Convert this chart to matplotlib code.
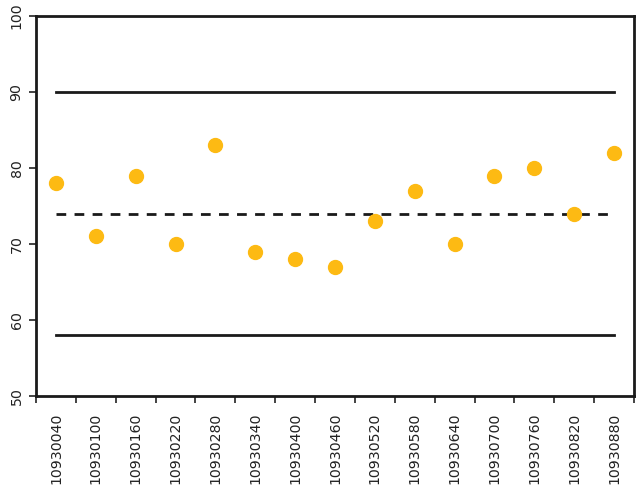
import matplotlib
matplotlib.use("Agg")
import matplotlib.pyplot as plt
import numpy as np

categories = ["10930040", "10930100", "10930160", "10930220", "10930280",
              "10930340", "10930400", "10930460", "10930520", "10930580",
              "10930640", "10930700", "10930760", "10930820", "10930880"]
values = [78, 71, 79, 70, 83, 69, 68, 67, 73, 77, 70, 79, 80, 74, 82]
upper_limit = 90
lower_limit = 58
mean_value = 74
y_ticks = [50, 60, 70, 80, 90, 100]

plt.rcParams['font.family'] = ['DejaVu Sans']
fig = plt.figure(figsize=(6.42, 4.96), dpi=100)
ax = fig.add_axes([0.0561, 0.2016, 0.9314, 0.7661])

x = np.arange(len(categories)) + 0.5
ax.plot([x[0], x[-1]], [upper_limit, upper_limit], color='#1a1a1a', lw=2)
ax.plot([x[0], x[-1]], [lower_limit, lower_limit], color='#1a1a1a', lw=2)
ax.plot([x[0], x[-1]], [mean_value, mean_value], color='#1a1a1a', lw=2, ls=(0, (3.5, 3)))
ax.plot(x, values, 'o', color='#FDBA13', markersize=10, zorder=3)

ax.set_xlim(0, len(categories))
ax.set_ylim(50, 100)
ax.set_yticks(y_ticks)
ax.set_yticklabels([str(t) for t in y_ticks], rotation=90, va='center', fontsize=10.2, color='#222222')
ax.set_xticks(np.arange(len(categories) + 1))
ax.set_xticklabels([])
ax.set_xticks(x, minor=True)
ax.set_xticklabels(categories, minor=True, rotation=90, fontsize=10.2, color='#222222')
ax.tick_params(axis='x', which='minor', length=0, pad=12)
ax.tick_params(axis='y', which='major', pad=4)
ax.tick_params(axis='both', which='major', length=5, width=1.2, color='#222222')
for s in ax.spines.values():
    s.set_linewidth(2)
    s.set_color('#1a1a1a')

fig.savefig('out.png', dpi=100)
